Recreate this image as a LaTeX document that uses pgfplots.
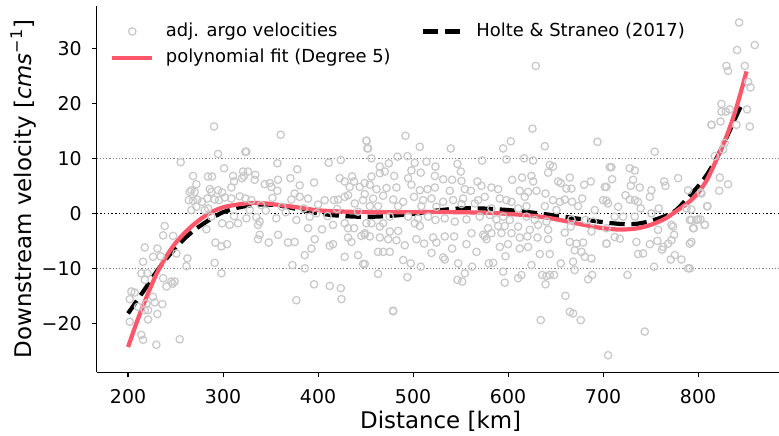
\documentclass[border=0pt]{standalone}
\usepackage{fontspec}
\setmainfont{DejaVu Sans}
\usepackage{pgfplots}
\pgfplotsset{compat=1.18}
\definecolor{scat}{RGB}{200,200,200}
\definecolor{fitpink}{RGB}{255,86,106}
\begin{document}
\begin{tikzpicture}
\begin{axis}[
  scale only axis, width=687.8bp, height=366.3bp,
  xmin=167, xmax=891, ymin=-28.9, ymax=37.7,
  axis lines*=left,
  axis line style={line width=1.1bp, black},
  tick align=outside, major tick length=4.9bp,
  tick style={line width=1.1bp, black},
  xtick={200,300,...,800},
  ytick={-20,-10,0,10,20,30},
  yticklabels={−20,−10,0,10,20,30},
  /pgf/number format/assume math mode=true,
  tick label style={font=\fontsize{19}{22}\selectfont},
  xticklabel style={anchor=north, inner sep=0pt, yshift=-12.5bp},
  yticklabel style={anchor=east, inner sep=0pt, xshift=-10bp},
  xlabel={Distance [km]},
  ylabel={Downstream velocity [\textit{cms}\textsuperscript{−1}]},
  every axis x label/.style={at={(axis description cs:0.5,0)}, anchor=base, yshift=-56.4bp, font=\fontsize{23}{27}\selectfont},
  every axis y label/.style={at={(axis description cs:-0.0955,0.5)}, rotate=90, anchor=base, font=\fontsize{23}{27}\selectfont},
  legend image code/.code={\draw[mark repeat=2,mark phase=2,#1] plot coordinates {(0bp,0bp) (20bp,0bp) (40bp,0bp)};},
  legend columns=2,
  legend cell align=left,
  legend style={at={(axis description cs:0,1)}, anchor=north west, xshift=13.3bp, yshift=-16.3bp,
    draw=none, fill=none, inner sep=0pt, row sep=8.4bp,
    font=\fontsize{18}{21}\selectfont,
    nodes={inner sep=0pt, text height=13.7bp, text depth=4.2bp},
    /tikz/every odd column/.style={column sep=11.5bp},
    /tikz/every even column/.style={column sep=30bp}},
]
% scatter
\addplot[only marks, mark=o, mark size=3.7bp, color=scat, mark options={line width=1.25bp}, forget plot] coordinates {
(290.5,15.8) (294.7,10.8) (323.5,11.2) (255.4,9.3) (301.1,8.2) (268.4,6.8) (284.2,6.7) (288.4,6.7) (271.9,5.3) (264.9,3.9)
(266.7,4.2) (270.2,3.9) (286,4.4) (287.7,3.9) (294.7,4.2) (299,3.8) (310.5,6.8) (311.6,5.8) (308.8,4.7) (321.1,7.6)
(320,6.4) (322,6.8) (263.9,2.4) (268.4,2.3) (273,2.5) (277.9,2.1) (283.5,2.7) (291.2,2.5) (295.8,2.4) (301.8,2.9)
(308.8,2.7) (317.6,3.1) (323.5,2.7) (266.7,0.6) (271.9,1.2) (280.7,0.6) (284.2,0.9) (287.7,-0.6) (299,-1.8) (307,-2.1)
(315.8,-1.8) (324.6,-0.9) (311.6,-0.5) (282.5,-2.9) (292,-5.3) (298.3,-6) (304.2,-5.6) (291.2,-9) (298.3,-10.9) (238.6,-2.3)
(236.9,-4) (247.4,-4.1) (217.6,-6.2) (230.9,-6.4) (226.3,-7.9) (234.4,-7.8) (262.5,-8.2) (250.9,-7.3) (261.4,-9.6) (215.8,-8.8)
(220.4,-10.9) (214,-10.9) (217.6,-12.1) (236.9,-11.8) (240.4,-13.3) (245.6,-12.4) (249.1,-12.4) (247,-12.8) (203.5,-14.2) (207,-14.4)
(201.8,-15.6) (226.3,-15.2) (219.3,-16.4) (228.1,-16.2) (236.1,-16.5) (217.6,-17.6) (221.1,-17.6) (230.9,-18.3) (201.8,-19.7) (221.1,-19.3)
(214,-22.1) (215.8,-23) (229.8,-23.9) (254.4,-22.9) (210.5,-17)
(360.7,14.3) (324.5,11.2) (450.9,13.2) (451.9,11.8) (423.9,9.7) (411.2,9.2) (357.2,9.1) (378.2,8) (326.3,7.6) (334,7)
(333.3,6.1) (357.9,6.1) (370.9,6.4) (395.8,5.6) (343.9,5.3) (349.1,5.5) (350.9,4.8) (357.2,4.1) (380.7,5.1) (422.8,6.4)
(428,5.8) (435.8,6.7) (437.9,5.8) (443.9,4.8) (449.1,5.5) (433.3,4.8) (431.6,3.3) (375.4,3.6) (371.9,2.5) (380.7,3)
(389.5,2.7) (407,2.4) (416.8,2.4) (421.1,2.5) (428,3) (438.6,1.8) (447.4,2.4) (329.8,2.4) (398.2,0) (391.2,-0.6)
(328.1,0.6) (335.1,-0.7) (338.6,-1.5) (336.8,-2.1) (356.1,-0.9) (377.2,-1.2) (389.5,-2.7) (404.2,-2.9) (415.8,-2.1) (428,-1.8)
(431.6,-2.7) (437.9,-2.7) (450.9,-1.8) (338.6,-3.9) (357.9,-3.9) (336.8,-4.7) (396.5,-4.7) (431.6,-4.4) (445.6,-4.1) (449.1,-3.9)
(435.1,-5.2) (368.4,-5.3) (375.4,-5.2) (348.1,-5.3) (393,-6.4) (412.3,-5.9) (415.8,-5.6) (386,-7.6) (428,-7.9) (442.1,-7.6)
(447.4,-9.2) (373,-9.4) (386,-10) (395.8,-12.9) (412.3,-13.2) (423.9,-13.6) (377.2,-15.8) (424.6,-15.6)
(340,1.5) (345,0.5) (352,2.8) (362,1.2) (366,0.2) (385,0.9) (400,1.6) (410,-0.5) (420,0.8) (442,0.3)
(492,14.1) (507.1,12.1) (539.7,11.8) (451,13.2) (452.7,11.8) (483.6,10.3) (494.1,10.4) (456.2,10) (474.5,9.1) (501.8,9.2)
(514.1,9.4) (523.6,8.5) (546.7,9) (572.7,9.6) (465,8.5) (465,7.3) (470.3,7.6) (480.1,6.8) (456.2,6.7) (498.3,7.8)
(508.1,7.4) (522.9,6.8) (531.7,6.2) (541.1,6.1) (550.3,7.6) (551,5.9) (494.8,6.4) (567.8,5.8) (572,5) (454.5,5.2)
(461.5,4.4) (472,4.6) (482.5,4.7) (498.3,5.2) (507.1,4.2) (515.2,4.4) (522.9,4.7) (538.7,4.1) (554.5,4.4) (560.8,4.1)
(449.2,3.5) (458,2.7) (468.5,3.2) (479,2.5) (489.6,2.1) (501.1,3) (510.6,2.4) (519.4,2.7) (531.7,2.1) (542.2,2.4)
(552.7,2.7) (568.5,2.4) (575.5,3) (454.5,1.3) (463.2,1.3) (484.3,1.3) (508.8,1.3) (524.6,1.2) (551,1.7) (565,1.8)
(475.5,-0.6) (494.8,-0.6) (505.3,-0.9) (515.9,-0.6) (523.6,-1.2) (533.4,-0.9) (543.9,-1.5) (556.2,-1.1) (570.2,-0.6) (456.2,-1.8)
(465,-2.4) (468.5,-1.8) (475.5,-3.3) (484.3,-3.2) (501.8,-1.8) (507.1,-2.3) (449.2,-3.6) (454.5,-4.2) (465,-4.4) (473.8,-4.7)
(482.5,-4.9) (491.3,-5.8) (503.6,-4.7) (511.7,-5.5) (521.1,-4.4) (524.6,-5.3) (533.4,-4.2) (543.2,-4.2) (556.2,-5.6) (561.5,-3.6)
(573.8,-3.9) (577.3,-4.7) (463.2,-7) (468.5,-7) (475.5,-7) (519.4,-7.2) (531.7,-8) (533.4,-8.4) (541.1,-6.4) (566.8,-7)
(489.6,-8.5) (497.6,-9.1) (508.1,-9.7) (547.5,-9.1) (562.2,-9.7) (579.7,-9.1) (449.2,-9.2) (463.2,-11) (494.1,-11.6) (546.7,-12.1)
(551.7,-12.4) (554.5,-10.9) (479,-17.7) (479,-17.8)
(625.7,15.4) (602.9,13.1) (594.8,11.8) (638.7,12.2) (694.1,13) (598.3,9.8) (616.9,10) (626.4,9.6) (643.9,8.8) (647.4,8.5)
(642.2,7.4) (707.1,8.4) (604.3,6.1) (614.8,6.5) (624.6,6.8) (626.4,5.8) (652.7,5.8) (655.5,5.5) (665,6.5) (661.5,4.5)
(666.7,4.5) (680.1,5.2) (687.1,5.8) (701.8,4.8) (582.5,4.7) (589.5,4.4) (612.3,4.1) (621.1,3.9) (629.9,4.1) (639.4,3.6)
(617.6,3) (591.3,2.7) (598.3,2.4) (603.6,2.1) (647.4,2.4) (654.5,2.1) (659.7,2.5) (667.4,2.1) (678,2.7) (700.1,2.4)
(705.3,1.8) (582.5,0.9) (610.6,0.9) (619.4,1.3) (638.7,1.3) (651,0.6) (673.7,1.3) (691.3,0.6) (580.8,-0.3) (587.8,-1.1)
(594.8,-0.6) (601.8,-1.2) (619.4,-0.6) (628.1,-1.2) (640.4,-1.5) (666.7,-1.1) (681.5,-1.2) (689.5,-1.5) (579,-2.7) (589.5,-2.3)
(596.5,-2.3) (610.6,-2.4) (622.9,-3) (631.6,-2.1) (642.2,-3) (659.7,-3.5) (666,-2.4) (687.8,-3.3) (703.6,-5.5) (575.5,-4.2)
(582.5,-3.6) (593,-3.6) (603.6,-3.6) (612.3,-4.4) (620.4,-4.2) (631,-4.4) (642.2,-4.7) (665,-5.2) (672,-5.5) (679,-5.3)
(591.3,-6.1) (600,-5.6) (612.3,-6.4) (621.1,-6.1) (670.2,-6.7) (677.3,-7) (597.3,-7.8) (633.4,-7.4) (643.9,-7.4) (680.8,-7.9)
(687.8,-8.2) (584.3,-9) (624.6,-9.4) (655.5,-9.1) (668.5,-8.8) (594.8,-10.6) (670.2,-10.3) (610.6,-11.8) (614.1,-11.2) (635.9,-11.2)
(640.4,-11.4) (644,-11.2) (648.5,-11.2) (639.4,-12.9) (684.3,-12) (688.5,-11.2) (596.5,-12.6) (660.4,-15) (665,-17.9) (668.5,-18.2)
(676.5,-19.4) (634.4,-19.4) (629.2,26.8)
(814.1,16.1) (754.4,11.2) (708.8,8.4) (728.1,8.2) (733.4,7.8) (709.5,6.2) (731.6,6.1) (764.3,5.8) (765.7,5) (779,6.4)
(729.2,5) (738.6,4.7) (750.9,4.2) (789.5,4.2) (802.9,3.8) (749.2,3) (703.6,4.8) (723.6,3.3) (728.1,2.5) (733.4,2.4)
(736.9,2.1) (703.6,2.3) (715.8,1.2) (739.7,0.9) (758.6,0.9) (787.8,0.9) (809.9,1.3) (712.3,-0.6) (721.1,-0.6) (733.4,-0.6)
(750.9,0) (772,-2.1) (791.3,-1.2) (800,-1.1) (807.1,-2.1) (794.8,-2.7) (703.6,-2.7) (757.9,-3) (773.7,-2.4) (712.3,-4.3)
(717.6,-4.6) (703.6,-5.5) (735.1,-5.2) (749.2,-5.6) (757.2,-5) (763.2,-6.1) (768.5,-5.5) (774.8,-3.9) (791.3,-5.5) (772,-4.9)
(736.9,-7.4) (742.1,-7.3) (762.1,-6.6) (775.5,-7.6) (782.5,-8.4) (771.3,-8.4) (753.7,-9.7) (789.5,-10) (725.7,-11.2) (743.9,-21.5)
(705.3,-25.8)
(843.2,34.7) (859.7,30.6) (841.1,29.7) (829.9,26.8) (831.6,25.9) (849.2,26.8) (852.7,23.9) (855.2,22.9) (824.6,19.9) (824.6,18.5)
(829.2,18.5) (833.4,18.9) (851.6,18.9) (814.1,16.1) (823.6,16.7) (840.4,16.1) (854.5,15.8) (828.1,12.8) (826.4,11.6) (817.6,10.4)
(822.9,6.5) (831.6,5.3) (822.2,4.1) (803.6,3.6) (809.5,1.3) (793,0.7) (793,-1.2) (798.3,-1.2) (802.5,-1.1) (795.5,-2.7)
(807.1,-2.1) (793,-5.2) (791.3,-10)
};
% reference lines
\addplot[gray, line width=0.8bp, dash pattern=on 1.2bp off 2bp, forget plot] coordinates {(167,10) (891,10)};
\addplot[gray, line width=0.8bp, dash pattern=on 1.2bp off 2bp, forget plot] coordinates {(167,-10) (891,-10)};
\addplot[black, line width=1.1bp, dash pattern=on 1.4bp off 2.3bp, forget plot] coordinates {(167,0) (891,0)};
% Holte & Straneo
\addplot[black, line width=4.2bp, dash pattern=on 15.4bp off 6.7bp, smooth, forget plot] coordinates {
(200,-18.2) (210,-15.7) (220,-13.2) (230,-10.6) (240,-8.3) (250,-6.3) (260,-4.5) (270,-3.0) (280,-1.8) (290,-0.7)
(300,0.2) (315,1.0) (330,1.5) (345,1.6) (360,1.4) (380,0.7) (400,0.0) (420,-0.4) (440,-0.6) (460,-0.6)
(480,-0.4) (500,-0.1) (520,0.4) (545,0.85) (570,0.9) (600,0.6) (625,0.15) (650,-0.4) (675,-1.0) (700,-1.6)
(720,-1.95) (735,-1.9) (750,-1.4) (765,-0.5) (777,0.6) (790,3.0) (800,4.9) (810,7.2) (820,10.2) (830,13.8)
(840,17.6) (847,20.2)
};
% polynomial fit
\addplot[fitpink, line width=4.2bp, smooth, forget plot] coordinates {
(200,-24.3) (210,-19.4) (220,-15.0) (230,-11.0) (240,-7.9) (250,-5.4) (260,-3.5) (270,-1.9) (280,-0.6) (290,0.4)
(300,1.1) (315,1.6) (330,1.9) (345,1.8) (360,1.5) (380,1.05) (400,0.55) (430,0.3) (460,0.2) (490,0.2)
(520,0.25) (550,0.2) (580,0.1) (600,-0.1) (620,-0.35) (640,-0.75) (660,-1.4) (680,-2.1) (700,-2.7) (718,-2.95)
(735,-2.75) (750,-2.1) (765,-1.0) (777,0.4) (790,2.0) (800,3.7) (810,6.3) (820,10.0) (830,14.0) (840,19.0)
(851,25.8)
};
% legend
\addlegendimage{only marks, mark=o, mark size=3.7bp, color=scat, mark options={line width=1.25bp}}
\addlegendentry{adj. argo velocities}
\addlegendimage{black, line width=4.2bp, dash pattern=on 15.4bp off 6.7bp}
\addlegendentry{Holte \& Straneo (2017)}
\addlegendimage{fitpink, line width=4.2bp}
\addlegendentry{polynomial fit (Degree 5)}
\end{axis}
\pgfresetboundingbox
\useasboundingbox (-96.7bp,-63.7bp) rectangle (682.3bp,372.3bp);
\end{tikzpicture}
\end{document}
